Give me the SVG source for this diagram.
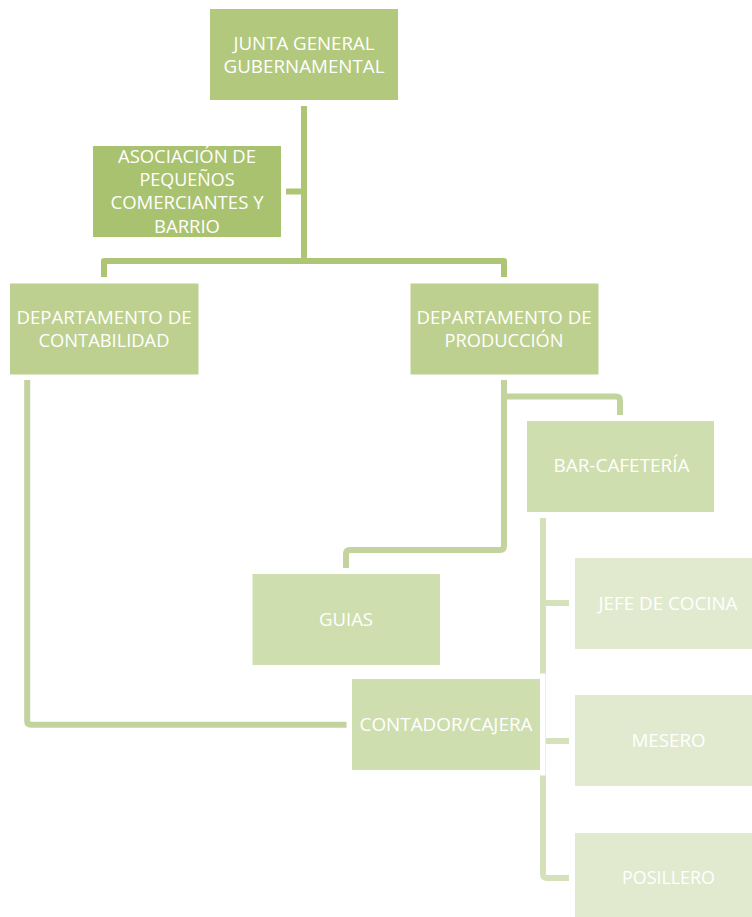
<svg xmlns="http://www.w3.org/2000/svg" width="752" height="917" viewBox="0 0 752 917">
<style>
.t{font-family:"Open Sans","Liberation Sans",sans-serif;font-size:18px;fill:#ffffff;text-anchor:middle}
.td{font-size:18px}
.c{fill:none;stroke-width:6;stroke-linejoin:round;stroke-linecap:butt}
.c1{stroke:#adc574}
.c2{stroke:#c2d39d}
.c3{stroke:#d4e1bb}
</style>
<rect width="752" height="917" fill="#ffffff"/>
<g id="connectors">
<path class="c c1" d="M304,106 V261"/>
<path class="c c1" d="M286,191.5 H304"/>
<path class="c c1" d="M104,277 V261 H504 V277"/>
<path class="c c2" d="M27.2,380 V721 Q27.2,724.8 31,724.8 H347"/>
<path class="c c2" d="M504,380 V546 Q504,550 500,550 H350 Q346,550 346,554 V568"/>
<path class="c c2" d="M504,396.5 H616 Q620,396.5 620,400.5 V415"/>
<path class="c c3" d="M543,518 V874 Q543,878 547,878 H569"/>
<path class="c c3" d="M543,603 H569"/>
<path class="c c3" d="M543,741 H569"/>
</g>
<g id="junta">
<rect x="210" y="9" width="188" height="91" fill="#b1c87d"/>
<text class="t" x="304" y="50" textLength="141" lengthAdjust="spacingAndGlyphs">JUNTA GENERAL</text>
<text class="t" x="304" y="73" textLength="161" lengthAdjust="spacingAndGlyphs">GUBERNAMENTAL</text>
</g>
<g id="asociacion">
<rect x="93" y="146" width="188" height="91" fill="#a9c26f"/>
<text class="t" x="187" y="163" textLength="138" lengthAdjust="spacingAndGlyphs">ASOCIACIÓN DE</text>
<text class="t" x="187" y="186" textLength="95" lengthAdjust="spacingAndGlyphs">PEQUEÑOS</text>
<text class="t" x="187" y="209" textLength="153" lengthAdjust="spacingAndGlyphs">COMERCIANTES Y</text>
<text class="t" x="187" y="232.5" textLength="66" lengthAdjust="spacingAndGlyphs">BARRIO</text>
</g>
<g id="contabilidad">
<rect x="10" y="283.5" width="188.5" height="91" fill="#bdd08f"/>
<text class="t td" x="104" y="324" textLength="175" lengthAdjust="spacingAndGlyphs">DEPARTAMENTO DE</text>
<text class="t td" x="104" y="347" textLength="131" lengthAdjust="spacingAndGlyphs">CONTABILIDAD</text>
</g>
<g id="produccion">
<rect x="410.5" y="283.5" width="188" height="91" fill="#bdd08f"/>
<text class="t td" x="504" y="324" textLength="175" lengthAdjust="spacingAndGlyphs">DEPARTAMENTO DE</text>
<text class="t td" x="504" y="347" textLength="119" lengthAdjust="spacingAndGlyphs">PRODUCCIÓN</text>
</g>
<g id="bar">
<rect x="527" y="421" width="187" height="91" fill="#cfdeae"/>
<text class="t" x="621.5" y="472" textLength="136" lengthAdjust="spacingAndGlyphs">BAR-CAFETERÍA</text>
</g>
<g id="guias">
<rect x="252.5" y="574" width="187.5" height="91" fill="#cfdeae"/>
<text class="t" x="346" y="626" textLength="54" lengthAdjust="spacingAndGlyphs">GUIAS</text>
</g>
<g id="contador">
<rect x="346.5" y="673.5" width="199" height="102" fill="#ffffff"/>
<rect x="352" y="679" width="188" height="91" fill="#cfdeae"/>
<text class="t" x="446" y="731" textLength="173" lengthAdjust="spacingAndGlyphs">CONTADOR/CAJERA</text>
</g>
<g id="jefe">
<rect x="575" y="558" width="187" height="91" fill="#e1eacf"/>
<text class="t" x="668" y="610" textLength="139" lengthAdjust="spacingAndGlyphs">JEFE DE COCINA</text>
</g>
<g id="mesero">
<rect x="575" y="695" width="187" height="91" fill="#e1eacf"/>
<text class="t" x="668.5" y="747" textLength="74" lengthAdjust="spacingAndGlyphs">MESERO</text>
</g>
<g id="posillero">
<rect x="575" y="833" width="187" height="91" fill="#e1eacf"/>
<text class="t" x="668.5" y="884" textLength="93" lengthAdjust="spacingAndGlyphs">POSILLERO</text>
</g>
</svg>
